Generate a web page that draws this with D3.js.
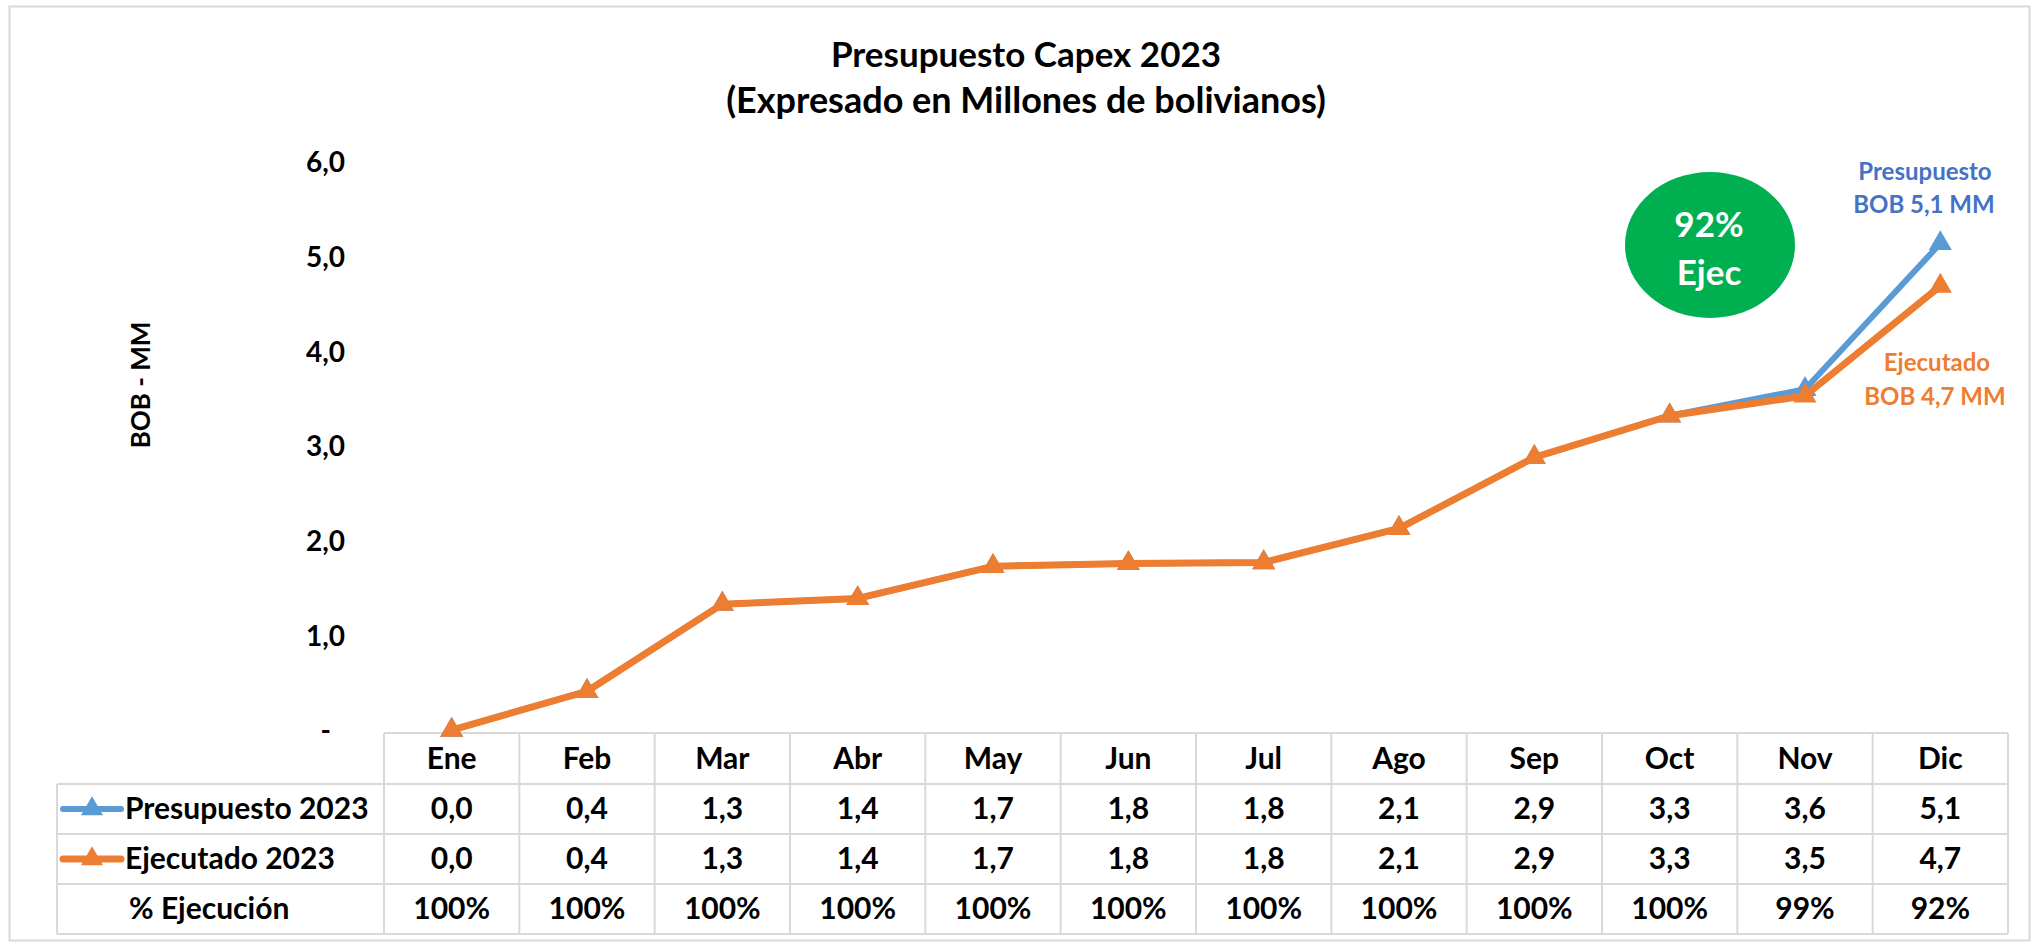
<!DOCTYPE html>
<html>
<head>
<meta charset="utf-8">
<script src="https://cdn.jsdelivr.net/npm/d3@7"></script>
<style>
  html, body { margin: 0; padding: 0; background: #ffffff; }
  svg { display: block; }
  text { font-family: Lato, "Open Sans", sans-serif; font-weight: 700; }
</style>
</head>
<body>
<svg id="chart" width="2036" height="947"></svg>
<script>
// ---- data ----
const months = ["Ene","Feb","Mar","Abr","May","Jun","Jul","Ago","Sep","Oct","Nov","Dic"];
const presupuesto = [0.01, 0.42, 1.34, 1.40, 1.74, 1.77, 1.78, 2.14, 2.89, 3.33, 3.61, 5.15];
const ejecutado   = [0.01, 0.42, 1.34, 1.40, 1.74, 1.77, 1.78, 2.14, 2.89, 3.33, 3.54, 4.70];
const presupuestoLabels = ["0,0","0,4","1,3","1,4","1,7","1,8","1,8","2,1","2,9","3,3","3,6","5,1"];
const ejecutadoLabels   = ["0,0","0,4","1,3","1,4","1,7","1,8","1,8","2,1","2,9","3,3","3,5","4,7"];
const ejecucionLabels   = ["100%","100%","100%","100%","100%","100%","100%","100%","100%","100%","99%","92%"];
const yTicks = [0, 1, 2, 3, 4, 5, 6];
const yTickLabels = ["-", "1,0", "2,0", "3,0", "4,0", "5,0", "6,0"];
const seriesNames = ["Presupuesto 2023", "Ejecutado 2023", "% Ejecución"];

const blue = "#5b9bd5", orange = "#ed7d31", green = "#00b050", grid = "#d9d9d9";

const svg = d3.select("#chart");

// outer border
svg.append("rect").attr("x", 9.5).attr("y", 6.5).attr("width", 2020).attr("height", 934)
  .attr("fill", "none").attr("stroke", grid).attr("stroke-width", 2);

// scales
const x = d3.scaleBand().domain(months).range([384, 2008]).paddingInner(0).paddingOuter(0);
const y = d3.scaleLinear().domain([0, 6]).range([731, 163]);

// title
svg.append("text").attr("x", 1026).attr("y", 67).attr("text-anchor", "middle")
  .attr("font-size", 35).attr("fill", "#000").text("Presupuesto Capex 2023");
svg.append("text").attr("x", 1026).attr("y", 113).attr("text-anchor", "middle")
  .attr("font-size", 36).attr("fill", "#000").text("(Expresado en Millones de bolivianos)");

// y axis (no line)
const yAxis = d3.axisLeft(y).tickValues(yTicks).tickSize(0).tickPadding(0)
  .tickFormat((d, i) => yTickLabels[i]);
const yg = svg.append("g").attr("transform", "translate(345,0)").call(yAxis);
yg.select(".domain").remove();
yg.selectAll("text").attr("font-size", 28).attr("font-family", "Lato, sans-serif")
  .attr("font-weight", 700).attr("fill", "#000")
  .attr("dx", (d) => d === 0 ? -14 : 0);

// y axis title
svg.append("text").attr("transform", "translate(150,385) rotate(-90)")
  .attr("text-anchor", "middle").attr("font-size", 26).attr("fill", "#000").text("BOB - MM");

// table
const tableLeft = 57;
const rowY = [733, 784, 834, 884, 934];
const fs = 30;
const tg = svg.append("g");
tg.append("line").attr("x1", x.range()[0]).attr("x2", x.range()[1]).attr("y1", rowY[0]).attr("y2", rowY[0])
  .attr("stroke", grid).attr("stroke-width", 2);
for (let r = 1; r < rowY.length; r++) {
  tg.append("line").attr("x1", tableLeft).attr("x2", x.range()[1]).attr("y1", rowY[r]).attr("y2", rowY[r])
    .attr("stroke", grid).attr("stroke-width", 2);
}
tg.append("line").attr("x1", tableLeft).attr("x2", tableLeft).attr("y1", rowY[1]).attr("y2", rowY[4])
  .attr("stroke", grid).attr("stroke-width", 2);
months.forEach((m) => {
  tg.append("line").attr("x1", x(m)).attr("x2", x(m)).attr("y1", rowY[0]).attr("y2", rowY[4])
    .attr("stroke", grid).attr("stroke-width", 2);
});
tg.append("line").attr("x1", x.range()[1]).attr("x2", x.range()[1]).attr("y1", rowY[0]).attr("y2", rowY[4])
  .attr("stroke", grid).attr("stroke-width", 2);

const rowsText = [months, presupuestoLabels, ejecutadoLabels, ejecucionLabels];
rowsText.forEach((arr, r) => {
  tg.selectAll(null).data(arr).enter().append("text")
    .attr("x", (d, i) => x(months[i]) + x.bandwidth() / 2)
    .attr("y", (rowY[r] + rowY[r + 1]) / 2 + 10)
    .attr("text-anchor", "middle").attr("font-size", fs).attr("fill", "#000")
    .text(d => d);
});

// legend cells
const tri = d3.symbol().type(d3.symbolTriangle);
const legendSeries = [{ c: blue, w: 6 }, { c: orange, w: 7 }];
legendSeries.forEach((s, i) => {
  const cy = (rowY[i + 1] + rowY[i + 2]) / 2;
  tg.append("line").attr("x1", 63).attr("x2", 121).attr("y1", cy).attr("y2", cy)
    .attr("stroke", s.c).attr("stroke-width", s.w).attr("stroke-linecap", "round");
  tg.append("path").attr("d", tri.size(210)()).attr("transform", `translate(92,${cy})`).attr("fill", s.c);
  tg.append("text").attr("x", 125).attr("y", cy + 10).attr("font-size", fs).attr("fill", "#000").text(seriesNames[i]);
});
tg.append("text").attr("x", 129).attr("y", (rowY[3] + rowY[4]) / 2 + 10).attr("font-size", fs)
  .attr("fill", "#000").text(seriesNames[2]);

// lines
const cx = (i) => x(months[i]) + x.bandwidth() / 2;
const line = d3.line().x((d, i) => cx(i)).y(d => y(d));
function drawSeries(vals, color, width) {
  svg.append("path").datum(vals).attr("d", line).attr("fill", "none")
    .attr("stroke", color).attr("stroke-width", width).attr("stroke-linejoin", "round");
  svg.selectAll(null).data(vals).enter().append("path")
    .attr("d", tri.size(230)())
    .attr("transform", (d, i) => `translate(${cx(i)},${y(d)})`)
    .attr("fill", color);
}
drawSeries(presupuesto, blue, 6);
drawSeries(ejecutado, orange, 7);

// annotations
svg.append("text").attr("x", 1925).attr("y", 180).attr("text-anchor", "middle")
  .attr("font-size", 24).attr("fill", "#4472c4").text("Presupuesto");
svg.append("text").attr("x", 1924).attr("y", 213).attr("text-anchor", "middle")
  .attr("font-size", 24).attr("fill", "#4472c4").text("BOB 5,1 MM");
svg.append("text").attr("x", 1937).attr("y", 371).attr("text-anchor", "middle")
  .attr("font-size", 24).attr("fill", orange).text("Ejecutado");
svg.append("text").attr("x", 1935).attr("y", 405).attr("text-anchor", "middle")
  .attr("font-size", 24).attr("fill", orange).text("BOB 4,7 MM");

// green ellipse
svg.append("ellipse").attr("cx", 1710).attr("cy", 245).attr("rx", 85).attr("ry", 73).attr("fill", green);
svg.append("text").attr("x", 1709).attr("y", 237).attr("text-anchor", "middle")
  .attr("font-size", 35).attr("fill", "#fff").text("92%");
svg.append("text").attr("x", 1709).attr("y", 285).attr("text-anchor", "middle")
  .attr("font-size", 35).attr("fill", "#fff").text("Ejec");
</script>
</body>
</html>
